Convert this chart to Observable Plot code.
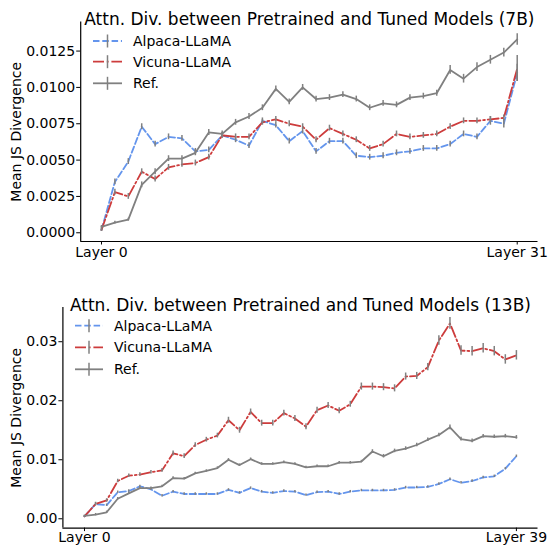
<!DOCTYPE html>
<html><head><meta charset="utf-8">
<script src="https://cdn.jsdelivr.net/npm/d3@7"></script>
<script src="https://cdn.jsdelivr.net/npm/@observablehq/plot@0.6"></script>
<style>
body{margin:0;background:#fff;font-family:"DejaVu Sans",sans-serif;}
#root{position:relative;width:548px;height:546px;background:#fff;}
#root svg{position:absolute;left:0;}
</style></head><body><div id="root"></div>
<script>
const seriesNames = ["Alpaca-LLaMA", "Vicuna-LLaMA", "Ref."];
const colors = ["#6495ED", "#CD3C3C", "#808080"];
const dashes = ["6.5,2.8", "11,2.8,1.8,2.8", null];
const titles = ["Attn. Div. between Pretrained and Tuned Models (7B)", "Attn. Div. between Pretrained and Tuned Models (13B)"];
const yLabel = "Mean JS Divergence";
const yTicks7 = [0, 0.0025, 0.005, 0.0075, 0.01, 0.0125];
const yTicks13 = [0, 0.01, 0.02, 0.03];

// 7B (layers 0..31)
const alpaca7 = [0.0002,0.0035,0.0049,0.0073,0.0061,0.0066,0.0065,0.0056,0.0057,0.0067,0.0064,0.0060,0.0077,0.0074,0.0063,0.0070,0.0056,0.0063,0.0063,0.0053,0.0052,0.0053,0.0055,0.0056,0.0058,0.0058,0.0061,0.0068,0.0066,0.0077,0.0075,0.0110];
const vicuna7 = [0.0002,0.0028,0.0025,0.0042,0.0037,0.0045,0.0047,0.0048,0.0052,0.0067,0.0066,0.0066,0.0076,0.0078,0.0075,0.0073,0.0064,0.0072,0.0068,0.0064,0.0058,0.0061,0.0068,0.0066,0.0067,0.0068,0.0073,0.0077,0.0077,0.0078,0.0079,0.0113];
const ref7 = [0.0004,0.0007,0.0009,0.0033,0.0042,0.0051,0.0051,0.0055,0.0069,0.0068,0.0076,0.0080,0.0086,0.0099,0.0090,0.0100,0.0092,0.0093,0.0095,0.0092,0.0086,0.0089,0.0088,0.0093,0.0094,0.0096,0.0112,0.0106,0.0114,0.0119,0.0124,0.0133];
const alpacaErr7 = [0.0001,0.0002,0.0002,0.0002,0.0002,0.0002,0.0002,0.0002,0.0002,0.0002,0.0002,0.0002,0.0002,0.0002,0.0002,0.0002,0.0002,0.0002,0.0002,0.0002,0.0002,0.0002,0.0002,0.0002,0.0002,0.0002,0.0002,0.0002,0.0002,0.0003,0.0003,0.0006];
const vicunaErr7 = [0.0001,0.0002,0.0002,0.0002,0.0002,0.0002,0.0002,0.0002,0.0002,0.0002,0.0002,0.0002,0.0002,0.0002,0.0002,0.0002,0.0002,0.0002,0.0002,0.0002,0.0002,0.0002,0.0002,0.0002,0.0002,0.0002,0.0002,0.0002,0.0002,0.0002,0.0002,0.0009];
const refErr7 = [0.0001,0.0001,0.0001,0.0002,0.0002,0.0002,0.0002,0.0002,0.0002,0.0002,0.0002,0.0002,0.0002,0.0002,0.0002,0.0002,0.0002,0.0002,0.0002,0.0002,0.0002,0.0002,0.0002,0.0002,0.0002,0.0002,0.0003,0.0003,0.0003,0.0003,0.0003,0.0004];

// 13B (layers 0..39)
const alpaca13 = [0.0004,0.0025,0.0023,0.0045,0.0047,0.0055,0.0050,0.0039,0.0046,0.0042,0.0042,0.0042,0.0042,0.0049,0.0044,0.0052,0.0046,0.0044,0.0047,0.0046,0.0040,0.0045,0.0046,0.0042,0.0046,0.0048,0.0048,0.0048,0.0049,0.0053,0.0053,0.0054,0.0059,0.0067,0.0061,0.0064,0.0070,0.0072,0.0085,0.0106];
const vicuna13 = [0.0004,0.0025,0.0031,0.0064,0.0073,0.0075,0.0079,0.0082,0.0111,0.0106,0.0125,0.0134,0.0141,0.0167,0.0150,0.0181,0.0162,0.0162,0.0179,0.0170,0.0156,0.0184,0.0192,0.0183,0.0194,0.0224,0.0224,0.0223,0.0221,0.0241,0.0242,0.0257,0.0302,0.0331,0.0285,0.0284,0.0289,0.0284,0.0270,0.0277];
const ref13 = [0.0005,0.0007,0.0011,0.0034,0.0043,0.0052,0.0052,0.0055,0.0069,0.0068,0.0077,0.0081,0.0086,0.0100,0.0091,0.0101,0.0093,0.0093,0.0096,0.0093,0.0087,0.0089,0.0089,0.0095,0.0095,0.0097,0.0114,0.0106,0.0115,0.0119,0.0125,0.0134,0.0142,0.0155,0.0135,0.0132,0.0140,0.0139,0.0140,0.0138];
const alpacaErr13 = [0.0001,0.0002,0.0002,0.0002,0.0002,0.0002,0.0002,0.0002,0.0002,0.0002,0.0002,0.0002,0.0002,0.0002,0.0002,0.0002,0.0002,0.0002,0.0002,0.0002,0.0002,0.0002,0.0002,0.0002,0.0002,0.0002,0.0002,0.0002,0.0002,0.0002,0.0002,0.0002,0.0002,0.0002,0.0002,0.0002,0.0002,0.0002,0.0002,0.0002];
const vicunaErr13 = [0.0002,0.0003,0.0003,0.0003,0.0003,0.0003,0.0003,0.0003,0.0004,0.0004,0.0004,0.0004,0.0004,0.0005,0.0005,0.0005,0.0005,0.0005,0.0005,0.0005,0.0005,0.0005,0.0005,0.0005,0.0005,0.0006,0.0006,0.0006,0.0006,0.0006,0.0006,0.0006,0.0008,0.0010,0.0008,0.0008,0.0008,0.0008,0.0008,0.0008];
const refErr13 = [0.0001,0.0002,0.0002,0.0002,0.0002,0.0002,0.0002,0.0002,0.0002,0.0002,0.0002,0.0002,0.0002,0.0002,0.0002,0.0002,0.0002,0.0002,0.0002,0.0002,0.0002,0.0002,0.0002,0.0002,0.0002,0.0002,0.0003,0.0003,0.0003,0.0003,0.0003,0.0003,0.0003,0.0004,0.0003,0.0003,0.0003,0.0003,0.0003,0.0003];

function panel(o) {
  const rows = [];
  seriesNames.forEach((s, k) => o.vals[k].forEach((v, i) => rows.push({series: s, k, layer: i, value: v, err: o.errs[k][i]})));
  const n = o.vals[0].length;
  const pad = (n - 1) * 0.05;
  const xDomain = [-pad, n - 1 + pad];
  const lines = seriesNames.map((s, k) => Plot.line(rows.filter(d => d.k === k), {
    x: "layer", y: "value", stroke: colors[k], strokeWidth: 1.8,
    strokeDasharray: dashes[k] || undefined
  }));
  const svg = Plot.plot({
    width: 548, height: o.height,
    marginLeft: o.marginLeft, marginRight: 10.5, marginTop: o.marginTop, marginBottom: o.marginBottom,
    style: {fontFamily: "DejaVu Sans", fontSize: "14px", color: "#000", background: "white", overflow: "visible"},
    x: {type: "linear", domain: xDomain, axis: null},
    y: {type: "linear", domain: o.yDomain, axis: null},
    marks: [
      ...lines,
      Plot.ruleX(rows, {x: "layer", y1: d => d.value - d.err, y2: d => d.value + d.err, stroke: "#808080", strokeWidth: 1.5}),
      Plot.ruleX([xDomain[0]], {stroke: "#000", strokeWidth: 1.2}),
      Plot.ruleY([o.yDomain[0]], {stroke: "#000", strokeWidth: 1.2}),
      Plot.axisY(o.yTicks, {tickSize: 4, tickPadding: 1.5, tickFormat: o.yFmt, fontSize: 14, label: null, stroke: "#000", strokeWidth: 1}),
      Plot.axisX([0, n - 1], {tickSize: 3.5, tickPadding: o.xPad, tickFormat: d => "Layer " + d, fontSize: 14, label: null, stroke: "#000", strokeWidth: 1}),
      Plot.text([yLabel], {frameAnchor: "left", textAnchor: "middle", rotate: -90, dx: 16.5 - o.marginLeft, fontSize: 14, fill: "#000"}),
      Plot.text([o.title], {frameAnchor: "top", textAnchor: "middle", dy: -9, fontSize: 17, fill: "#000"})
    ]
  });
  // legend
  const g = d3.select(svg).append("g").attr("font-family", "DejaVu Sans").attr("font-size", 14).attr("text-anchor", "start");
  seriesNames.forEach((s, k) => {
    const y = o.legY[k];
    const ln = g.append("line").attr("x1", o.legX0).attr("x2", o.legX1).attr("y1", y).attr("y2", y)
      .attr("stroke", colors[k]).attr("stroke-width", 1.8);
    if (dashes[k]) ln.attr("stroke-dasharray", dashes[k]);
    const xm = (o.legX0 + o.legX1) / 2;
    g.append("line").attr("x1", xm).attr("x2", xm).attr("y1", y - 6.5).attr("y2", y + 6.5)
      .attr("stroke", "#808080").attr("stroke-width", 1.5);
    g.append("text").attr("x", o.legX1 + 11).attr("y", y).attr("dy", "0.35em").attr("fill", "#000").attr("text-anchor", "start").text(s);
  });
  return svg;
}

const root = document.getElementById("root");
const top7 = panel({
  title: titles[0], vals: [alpaca7, vicuna7, ref7], errs: [alpacaErr7, vicunaErr7, refErr7],
  height: 273, marginLeft: 80.2, marginTop: 21.5, marginBottom: 32, xPad: 2,
  yDomain: [-0.0006, 0.0145], yTicks: yTicks7, yFmt: d3.format(".4f"),
  legX0: 93, legX1: 122, legY: [41, 61.7, 83.3]
});
top7.style.top = "0px";
root.appendChild(top7);
const bot13 = panel({
  title: titles[1], vals: [alpaca13, vicuna13, ref13], errs: [alpacaErr13, vicunaErr13, refErr13],
  height: 273, marginLeft: 62.4, marginTop: 34, marginBottom: 18.4, xPad: 0.5,
  yDomain: [-0.00158, 0.0358], yTicks: yTicks13, yFmt: d3.format(".2f"),
  legX0: 75, legX1: 103, legY: [52.7, 74.3, 96.3]
});
bot13.style.top = "273px";
root.appendChild(bot13);
</script>
</body></html>
